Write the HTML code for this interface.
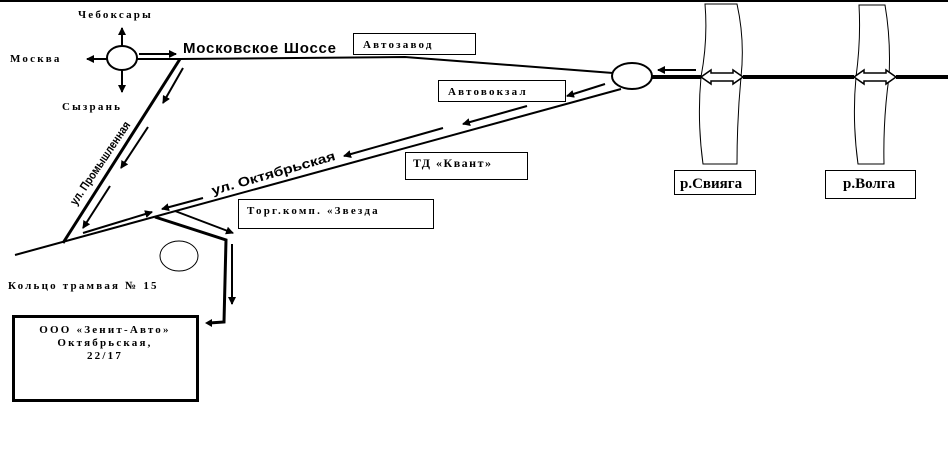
<!DOCTYPE html>
<html><head><meta charset="utf-8"><style>
html,body{margin:0;padding:0;background:#fff;}
svg{display:block;}
.t{font-family:"Liberation Serif",serif;font-weight:bold;font-size:11px;letter-spacing:2.2px;fill:#000;}
</style></head><body>
<svg width="948" height="470" viewBox="0 0 948 470" xmlns="http://www.w3.org/2000/svg">
<defs>
<marker id="a" markerWidth="8" markerHeight="8" refX="7" refY="4" orient="auto" markerUnits="userSpaceOnUse"><path d="M0,0 L8,4 L0,8 z" fill="#000"/></marker>
</defs>
<line x1="0" y1="1" x2="948" y2="1" stroke="#000" stroke-width="2"/>
<g stroke="#000" fill="none">
<ellipse cx="122" cy="58" rx="15" ry="12" stroke-width="2"/>
<line x1="122" y1="46" x2="122" y2="28" stroke-width="2" marker-end="url(#a)"/>
<line x1="122" y1="70" x2="122" y2="92" stroke-width="2" marker-end="url(#a)"/>
<line x1="107" y1="59" x2="87" y2="59" stroke-width="2" marker-end="url(#a)"/>
<line x1="139" y1="54" x2="176" y2="54" stroke-width="2" marker-end="url(#a)"/>
<polyline points="137,59 180,59 405,57 613,73" stroke-width="2"/>
<ellipse cx="632" cy="76" rx="20" ry="13" stroke-width="2"/>
<line x1="651" y1="77" x2="701" y2="77" stroke-width="4"/>
<line x1="743" y1="77" x2="854" y2="77" stroke-width="4"/>
<line x1="896" y1="77" x2="948" y2="77" stroke-width="4"/>
<line x1="696" y1="70" x2="658" y2="70" stroke-width="2" marker-end="url(#a)"/>
<path d="M705,4 L737,4 Q745,40 741,77 Q737,120 737,164 L703,164 Q697,120 701,77 Q708,40 705,4 z" stroke-width="1"/>
<path d="M859,5 L885,5 Q891,40 889,77 Q883,120 884,164 L858,164 Q852,120 856,77 Q861,40 859,5 z" stroke-width="1"/>
<path d="M701,77 L711,70 L711,73 L733,73 L733,70 L743,77 L733,84 L733,81 L711,81 L711,84 z" fill="#fff" stroke-width="1.5"/>
<path d="M854,77 L864,70 L864,73 L886,73 L886,70 L896,77 L886,84 L886,81 L864,81 L864,84 z" fill="#fff" stroke-width="1.5"/>
<line x1="621" y1="89" x2="15" y2="255" stroke-width="2"/>
<line x1="180" y1="59" x2="63" y2="243" stroke-width="3"/>
<line x1="183" y1="68" x2="163" y2="103" stroke-width="2" marker-end="url(#a)"/>
<line x1="148" y1="127" x2="121" y2="168" stroke-width="2" marker-end="url(#a)"/>
<line x1="110" y1="186" x2="83" y2="228" stroke-width="2" marker-end="url(#a)"/>
<line x1="605" y1="84" x2="567" y2="96" stroke-width="2" marker-end="url(#a)"/>
<line x1="527" y1="106" x2="463" y2="124" stroke-width="2" marker-end="url(#a)"/>
<line x1="443" y1="128" x2="344" y2="156" stroke-width="2" marker-end="url(#a)"/>
<line x1="203" y1="198" x2="162" y2="209" stroke-width="2" marker-end="url(#a)"/>
<line x1="83" y1="233" x2="152" y2="212" stroke-width="2" marker-end="url(#a)"/>
<polyline points="155,217 226,240 224,322 209,323" stroke-width="3"/>
<path d="M212,319 L205,323 L212,327 z" fill="#000" stroke="none"/>
<line x1="175" y1="211" x2="233" y2="233" stroke-width="2" marker-end="url(#a)"/>
<line x1="232" y1="244" x2="232" y2="304" stroke-width="2" marker-end="url(#a)"/>
<ellipse cx="179" cy="256" rx="19" ry="15" stroke-width="1"/>
<rect x="353.5" y="33.5" width="122" height="21" stroke-width="1"/>
<rect x="438.5" y="80.5" width="127" height="21" stroke-width="1"/>
<rect x="405.5" y="152.5" width="122" height="27" stroke-width="1"/>
<rect x="238.5" y="199.5" width="195" height="29" stroke-width="1"/>
<rect x="674.5" y="170.5" width="81" height="24" stroke-width="1"/>
<rect x="825.5" y="170.5" width="90" height="28" stroke-width="1"/>
<rect x="13.5" y="316.5" width="184" height="84" stroke-width="3"/>
</g>
<text class="t" x="78" y="18">Чебоксары</text>
<text class="t" x="10" y="62">Москва</text>
<text class="t" x="62" y="110">Сызрань</text>
<text x="183" y="53" style="font-family:'Liberation Sans',sans-serif;font-weight:bold;font-size:15px;" textLength="153">Московское Шоссе</text>
<text class="t" x="363" y="48">Автозавод</text>
<text class="t" x="448" y="95">Автовокзал</text>
<text class="t" x="413" y="167" style="letter-spacing:1.5px;font-size:12px">ТД «Квант»</text>
<text class="t" x="247" y="214">Торг.комп. «Звезда</text>
<text x="680" y="188" style="font-family:'Liberation Serif',serif;font-weight:bold;font-size:15px;">р.Свияга</text>
<text x="843" y="188" style="font-family:'Liberation Serif',serif;font-weight:bold;font-size:15px;">р.Волга</text>
<text class="t" x="8" y="289">Кольцо трамвая № 15</text>
<text class="t" x="105" y="333" text-anchor="middle">ООО «Зенит-Авто»</text>
<text class="t" x="105" y="346" text-anchor="middle">Октябрьская,</text>
<text class="t" x="105" y="359" text-anchor="middle">22/17</text>
<text transform="translate(213,195) rotate(-16)" style="font-family:'Liberation Sans',sans-serif;font-weight:bold;font-size:13px;" textLength="128" lengthAdjust="spacingAndGlyphs">ул. Октябрьская</text>
<text transform="translate(76,206) rotate(-56)" style="font-family:'Liberation Sans',sans-serif;font-weight:bold;font-size:12px;" textLength="98" lengthAdjust="spacingAndGlyphs">ул. Промышленная</text>
</svg>
</body></html>
